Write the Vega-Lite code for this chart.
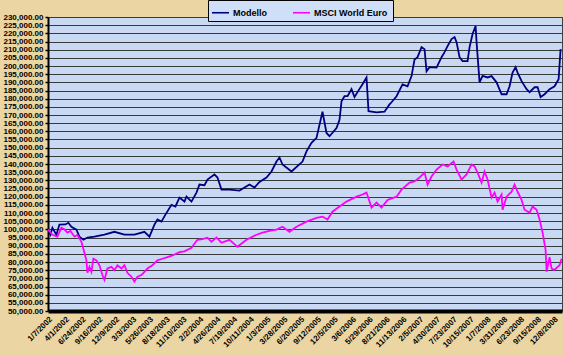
{
  "$schema": "https://vega.github.io/schema/vega-lite/v6.json",
  "width": 514,
  "height": 294,
  "autosize": {"type": "none"},
  "padding": {"left": 48, "top": 17, "right": 1, "bottom": 45},
  "background": "#EBD6A3",
  "config": {
    "view": {"fill": "#C9D9F3", "stroke": "#404040", "strokeWidth": 1},
    "font": "Liberation Sans"
  },
  "data": {
    "values": [
      {"d": "2002-01-07", "s": "Modello", "v": 100000},
      {"d": "2002-01-19", "s": "Modello", "v": 96700},
      {"d": "2002-01-29", "s": "Modello", "v": 101000},
      {"d": "2002-02-18", "s": "Modello", "v": 96700},
      {"d": "2002-03-05", "s": "Modello", "v": 102900},
      {"d": "2002-04-04", "s": "Modello", "v": 103000},
      {"d": "2002-04-19", "s": "Modello", "v": 104000},
      {"d": "2002-05-04", "s": "Modello", "v": 101600},
      {"d": "2002-05-29", "s": "Modello", "v": 99800},
      {"d": "2002-06-13", "s": "Modello", "v": 95500},
      {"d": "2002-07-03", "s": "Modello", "v": 93600},
      {"d": "2002-07-23", "s": "Modello", "v": 95000},
      {"d": "2002-08-27", "s": "Modello", "v": 95500},
      {"d": "2002-10-16", "s": "Modello", "v": 96700},
      {"d": "2002-12-05", "s": "Modello", "v": 98500},
      {"d": "2003-01-24", "s": "Modello", "v": 96700},
      {"d": "2003-03-15", "s": "Modello", "v": 96700},
      {"d": "2003-05-04", "s": "Modello", "v": 98500},
      {"d": "2003-05-29", "s": "Modello", "v": 95500},
      {"d": "2003-06-23", "s": "Modello", "v": 102900},
      {"d": "2003-07-08", "s": "Modello", "v": 106000},
      {"d": "2003-07-28", "s": "Modello", "v": 104700},
      {"d": "2003-08-17", "s": "Modello", "v": 109000},
      {"d": "2003-09-16", "s": "Modello", "v": 115000},
      {"d": "2003-10-06", "s": "Modello", "v": 114000},
      {"d": "2003-10-26", "s": "Modello", "v": 119400},
      {"d": "2003-11-20", "s": "Modello", "v": 117000},
      {"d": "2003-11-30", "s": "Modello", "v": 120000},
      {"d": "2003-12-25", "s": "Modello", "v": 117000},
      {"d": "2004-01-19", "s": "Modello", "v": 122500},
      {"d": "2004-02-03", "s": "Modello", "v": 127400},
      {"d": "2004-02-28", "s": "Modello", "v": 127000},
      {"d": "2004-03-14", "s": "Modello", "v": 130500},
      {"d": "2004-04-18", "s": "Modello", "v": 133600},
      {"d": "2004-05-03", "s": "Modello", "v": 131700},
      {"d": "2004-05-23", "s": "Modello", "v": 124300},
      {"d": "2004-07-02", "s": "Modello", "v": 124300},
      {"d": "2004-08-21", "s": "Modello", "v": 123700},
      {"d": "2004-10-10", "s": "Modello", "v": 127400},
      {"d": "2004-11-04", "s": "Modello", "v": 125600},
      {"d": "2004-11-29", "s": "Modello", "v": 129000},
      {"d": "2005-01-03", "s": "Modello", "v": 131700},
      {"d": "2005-01-28", "s": "Modello", "v": 135400},
      {"d": "2005-02-22", "s": "Modello", "v": 141500},
      {"d": "2005-03-09", "s": "Modello", "v": 144000},
      {"d": "2005-03-24", "s": "Modello", "v": 139700},
      {"d": "2005-05-08", "s": "Modello", "v": 135400},
      {"d": "2005-07-02", "s": "Modello", "v": 141500},
      {"d": "2005-07-22", "s": "Modello", "v": 147700},
      {"d": "2005-08-16", "s": "Modello", "v": 153000},
      {"d": "2005-09-10", "s": "Modello", "v": 156000},
      {"d": "2005-10-10", "s": "Modello", "v": 172000},
      {"d": "2005-10-30", "s": "Modello", "v": 159000},
      {"d": "2005-11-14", "s": "Modello", "v": 157000},
      {"d": "2005-12-19", "s": "Modello", "v": 162000},
      {"d": "2006-01-03", "s": "Modello", "v": 167000},
      {"d": "2006-01-13", "s": "Modello", "v": 178400},
      {"d": "2006-01-28", "s": "Modello", "v": 181500},
      {"d": "2006-02-12", "s": "Modello", "v": 181500},
      {"d": "2006-03-04", "s": "Modello", "v": 185800},
      {"d": "2006-03-19", "s": "Modello", "v": 181000},
      {"d": "2006-04-13", "s": "Modello", "v": 186000},
      {"d": "2006-04-28", "s": "Modello", "v": 188800},
      {"d": "2006-05-18", "s": "Modello", "v": 193000},
      {"d": "2006-05-28", "s": "Modello", "v": 172300},
      {"d": "2006-07-07", "s": "Modello", "v": 171600},
      {"d": "2006-08-16", "s": "Modello", "v": 172000},
      {"d": "2006-09-10", "s": "Modello", "v": 176500},
      {"d": "2006-09-20", "s": "Modello", "v": 177800},
      {"d": "2006-10-15", "s": "Modello", "v": 181500},
      {"d": "2006-11-14", "s": "Modello", "v": 188800},
      {"d": "2006-12-09", "s": "Modello", "v": 187600},
      {"d": "2006-12-29", "s": "Modello", "v": 193800},
      {"d": "2007-01-13", "s": "Modello", "v": 204000},
      {"d": "2007-01-28", "s": "Modello", "v": 205400},
      {"d": "2007-02-17", "s": "Modello", "v": 211600},
      {"d": "2007-03-04", "s": "Modello", "v": 210300},
      {"d": "2007-03-14", "s": "Modello", "v": 196800},
      {"d": "2007-03-29", "s": "Modello", "v": 199300},
      {"d": "2007-05-03", "s": "Modello", "v": 199000},
      {"d": "2007-05-28", "s": "Modello", "v": 205400},
      {"d": "2007-06-12", "s": "Modello", "v": 208500},
      {"d": "2007-06-27", "s": "Modello", "v": 212200},
      {"d": "2007-07-17", "s": "Modello", "v": 216500},
      {"d": "2007-08-01", "s": "Modello", "v": 217700},
      {"d": "2007-08-11", "s": "Modello", "v": 214600},
      {"d": "2007-08-26", "s": "Modello", "v": 205400},
      {"d": "2007-09-10", "s": "Modello", "v": 203000},
      {"d": "2007-10-05", "s": "Modello", "v": 203000},
      {"d": "2007-10-15", "s": "Modello", "v": 211600},
      {"d": "2007-10-30", "s": "Modello", "v": 219600},
      {"d": "2007-11-14", "s": "Modello", "v": 224500},
      {"d": "2007-11-19", "s": "Modello", "v": 214600},
      {"d": "2007-12-04", "s": "Modello", "v": 190000},
      {"d": "2007-12-19", "s": "Modello", "v": 194000},
      {"d": "2008-01-13", "s": "Modello", "v": 193000},
      {"d": "2008-02-02", "s": "Modello", "v": 193800},
      {"d": "2008-02-27", "s": "Modello", "v": 190000},
      {"d": "2008-03-23", "s": "Modello", "v": 182700},
      {"d": "2008-04-17", "s": "Modello", "v": 182700},
      {"d": "2008-05-02", "s": "Modello", "v": 187600},
      {"d": "2008-05-17", "s": "Modello", "v": 196000},
      {"d": "2008-06-01", "s": "Modello", "v": 199300},
      {"d": "2008-06-11", "s": "Modello", "v": 196000},
      {"d": "2008-07-01", "s": "Modello", "v": 190700},
      {"d": "2008-07-26", "s": "Modello", "v": 185800},
      {"d": "2008-08-10", "s": "Modello", "v": 184000},
      {"d": "2008-09-04", "s": "Modello", "v": 187000},
      {"d": "2008-09-19", "s": "Modello", "v": 187000},
      {"d": "2008-10-04", "s": "Modello", "v": 181000},
      {"d": "2008-10-24", "s": "Modello", "v": 182700},
      {"d": "2008-11-18", "s": "Modello", "v": 185800},
      {"d": "2008-12-13", "s": "Modello", "v": 187600},
      {"d": "2009-01-02", "s": "Modello", "v": 191900},
      {"d": "2009-01-12", "s": "Modello", "v": 210300},

      {"d": "2002-01-07", "s": "MSCI World  Euro", "v": 100000},
      {"d": "2002-01-29", "s": "MSCI World  Euro", "v": 96700},
      {"d": "2002-02-23", "s": "MSCI World  Euro", "v": 95500},
      {"d": "2002-03-15", "s": "MSCI World  Euro", "v": 101000},
      {"d": "2002-03-30", "s": "MSCI World  Euro", "v": 100000},
      {"d": "2002-04-14", "s": "MSCI World  Euro", "v": 98000},
      {"d": "2002-04-29", "s": "MSCI World  Euro", "v": 99000},
      {"d": "2002-05-19", "s": "MSCI World  Euro", "v": 95500},
      {"d": "2002-06-03", "s": "MSCI World  Euro", "v": 96500},
      {"d": "2002-06-23", "s": "MSCI World  Euro", "v": 92400},
      {"d": "2002-07-08", "s": "MSCI World  Euro", "v": 85600},
      {"d": "2002-07-18", "s": "MSCI World  Euro", "v": 81000},
      {"d": "2002-07-23", "s": "MSCI World  Euro", "v": 73400},
      {"d": "2002-08-02", "s": "MSCI World  Euro", "v": 77000},
      {"d": "2002-08-12", "s": "MSCI World  Euro", "v": 74000},
      {"d": "2002-08-22", "s": "MSCI World  Euro", "v": 82000},
      {"d": "2002-09-06", "s": "MSCI World  Euro", "v": 81000},
      {"d": "2002-09-21", "s": "MSCI World  Euro", "v": 78000},
      {"d": "2002-10-06", "s": "MSCI World  Euro", "v": 72000},
      {"d": "2002-10-16", "s": "MSCI World  Euro", "v": 69000},
      {"d": "2002-10-31", "s": "MSCI World  Euro", "v": 76000},
      {"d": "2002-11-20", "s": "MSCI World  Euro", "v": 77000},
      {"d": "2002-12-05", "s": "MSCI World  Euro", "v": 75000},
      {"d": "2002-12-20", "s": "MSCI World  Euro", "v": 78000},
      {"d": "2003-01-09", "s": "MSCI World  Euro", "v": 76000},
      {"d": "2003-01-24", "s": "MSCI World  Euro", "v": 78000},
      {"d": "2003-02-08", "s": "MSCI World  Euro", "v": 73400},
      {"d": "2003-02-28", "s": "MSCI World  Euro", "v": 71000},
      {"d": "2003-03-15", "s": "MSCI World  Euro", "v": 68000},
      {"d": "2003-03-30", "s": "MSCI World  Euro", "v": 71000},
      {"d": "2003-04-19", "s": "MSCI World  Euro", "v": 72000},
      {"d": "2003-05-04", "s": "MSCI World  Euro", "v": 74000},
      {"d": "2003-05-19", "s": "MSCI World  Euro", "v": 76000},
      {"d": "2003-06-13", "s": "MSCI World  Euro", "v": 78000},
      {"d": "2003-07-08", "s": "MSCI World  Euro", "v": 81000},
      {"d": "2003-08-02", "s": "MSCI World  Euro", "v": 82000},
      {"d": "2003-08-27", "s": "MSCI World  Euro", "v": 83000},
      {"d": "2003-09-21", "s": "MSCI World  Euro", "v": 84000},
      {"d": "2003-10-26", "s": "MSCI World  Euro", "v": 86000},
      {"d": "2003-11-20", "s": "MSCI World  Euro", "v": 86500},
      {"d": "2003-12-25", "s": "MSCI World  Euro", "v": 88700},
      {"d": "2004-01-24", "s": "MSCI World  Euro", "v": 93600},
      {"d": "2004-02-18", "s": "MSCI World  Euro", "v": 94000},
      {"d": "2004-03-14", "s": "MSCI World  Euro", "v": 94900},
      {"d": "2004-04-03", "s": "MSCI World  Euro", "v": 92400},
      {"d": "2004-04-28", "s": "MSCI World  Euro", "v": 95000},
      {"d": "2004-05-23", "s": "MSCI World  Euro", "v": 91800},
      {"d": "2004-07-02", "s": "MSCI World  Euro", "v": 93600},
      {"d": "2004-08-11", "s": "MSCI World  Euro", "v": 89300},
      {"d": "2004-09-25", "s": "MSCI World  Euro", "v": 93600},
      {"d": "2004-11-14", "s": "MSCI World  Euro", "v": 96700},
      {"d": "2004-12-14", "s": "MSCI World  Euro", "v": 98000},
      {"d": "2005-01-18", "s": "MSCI World  Euro", "v": 99000},
      {"d": "2005-02-22", "s": "MSCI World  Euro", "v": 99800},
      {"d": "2005-03-24", "s": "MSCI World  Euro", "v": 101600},
      {"d": "2005-04-28", "s": "MSCI World  Euro", "v": 98500},
      {"d": "2005-06-02", "s": "MSCI World  Euro", "v": 101600},
      {"d": "2005-07-22", "s": "MSCI World  Euro", "v": 104700},
      {"d": "2005-09-10", "s": "MSCI World  Euro", "v": 107000},
      {"d": "2005-10-10", "s": "MSCI World  Euro", "v": 107800},
      {"d": "2005-11-04", "s": "MSCI World  Euro", "v": 106000},
      {"d": "2005-11-29", "s": "MSCI World  Euro", "v": 110800},
      {"d": "2006-01-03", "s": "MSCI World  Euro", "v": 114000},
      {"d": "2006-02-07", "s": "MSCI World  Euro", "v": 117000},
      {"d": "2006-03-29", "s": "MSCI World  Euro", "v": 120000},
      {"d": "2006-04-28", "s": "MSCI World  Euro", "v": 121300},
      {"d": "2006-05-18", "s": "MSCI World  Euro", "v": 122500},
      {"d": "2006-06-12", "s": "MSCI World  Euro", "v": 113300},
      {"d": "2006-07-07", "s": "MSCI World  Euro", "v": 116400},
      {"d": "2006-08-01", "s": "MSCI World  Euro", "v": 113300},
      {"d": "2006-08-31", "s": "MSCI World  Euro", "v": 118000},
      {"d": "2006-10-15", "s": "MSCI World  Euro", "v": 120000},
      {"d": "2006-11-09", "s": "MSCI World  Euro", "v": 124300},
      {"d": "2006-12-19", "s": "MSCI World  Euro", "v": 128600},
      {"d": "2007-01-13", "s": "MSCI World  Euro", "v": 129300},
      {"d": "2007-02-07", "s": "MSCI World  Euro", "v": 131700},
      {"d": "2007-03-04", "s": "MSCI World  Euro", "v": 134800},
      {"d": "2007-03-19", "s": "MSCI World  Euro", "v": 127400},
      {"d": "2007-04-08", "s": "MSCI World  Euro", "v": 132300},
      {"d": "2007-05-03", "s": "MSCI World  Euro", "v": 136600},
      {"d": "2007-06-02", "s": "MSCI World  Euro", "v": 139700},
      {"d": "2007-06-27", "s": "MSCI World  Euro", "v": 138500},
      {"d": "2007-07-27", "s": "MSCI World  Euro", "v": 141500},
      {"d": "2007-08-11", "s": "MSCI World  Euro", "v": 136600},
      {"d": "2007-09-05", "s": "MSCI World  Euro", "v": 130500},
      {"d": "2007-09-30", "s": "MSCI World  Euro", "v": 133600},
      {"d": "2007-10-25", "s": "MSCI World  Euro", "v": 139700},
      {"d": "2007-11-09", "s": "MSCI World  Euro", "v": 138500},
      {"d": "2007-11-24", "s": "MSCI World  Euro", "v": 134800},
      {"d": "2007-12-14", "s": "MSCI World  Euro", "v": 128600},
      {"d": "2007-12-29", "s": "MSCI World  Euro", "v": 135400},
      {"d": "2008-01-13", "s": "MSCI World  Euro", "v": 130500},
      {"d": "2008-02-02", "s": "MSCI World  Euro", "v": 119400},
      {"d": "2008-02-17", "s": "MSCI World  Euro", "v": 122500},
      {"d": "2008-03-03", "s": "MSCI World  Euro", "v": 117000},
      {"d": "2008-03-23", "s": "MSCI World  Euro", "v": 121300},
      {"d": "2008-03-28", "s": "MSCI World  Euro", "v": 112000},
      {"d": "2008-04-17", "s": "MSCI World  Euro", "v": 120000},
      {"d": "2008-05-12", "s": "MSCI World  Euro", "v": 123000},
      {"d": "2008-05-27", "s": "MSCI World  Euro", "v": 127400},
      {"d": "2008-06-11", "s": "MSCI World  Euro", "v": 123000},
      {"d": "2008-07-01", "s": "MSCI World  Euro", "v": 118000},
      {"d": "2008-07-16", "s": "MSCI World  Euro", "v": 112000},
      {"d": "2008-08-10", "s": "MSCI World  Euro", "v": 110200},
      {"d": "2008-08-25", "s": "MSCI World  Euro", "v": 114000},
      {"d": "2008-09-14", "s": "MSCI World  Euro", "v": 112000},
      {"d": "2008-09-29", "s": "MSCI World  Euro", "v": 106000},
      {"d": "2008-10-14", "s": "MSCI World  Euro", "v": 98000},
      {"d": "2008-10-29", "s": "MSCI World  Euro", "v": 87500},
      {"d": "2008-11-03", "s": "MSCI World  Euro", "v": 74000},
      {"d": "2008-11-18", "s": "MSCI World  Euro", "v": 83000},
      {"d": "2008-11-28", "s": "MSCI World  Euro", "v": 76000},
      {"d": "2008-12-13", "s": "MSCI World  Euro", "v": 75200},
      {"d": "2008-12-28", "s": "MSCI World  Euro", "v": 77000},
      {"d": "2009-01-07", "s": "MSCI World  Euro", "v": 78000},
      {"d": "2009-01-17", "s": "MSCI World  Euro", "v": 82000}
    ]
  },
  "mark": {"type": "line", "strokeWidth": 1.8, "clip": true},
  "encoding": {
    "x": {
      "field": "d",
      "type": "temporal",
      "scale": {
        "domain": [
          {"year": 2002, "month": 1, "date": 7},
          {"year": 2009, "month": 1, "date": 19}
        ]
      },
      "axis": {
        "title": null,
        "values": [
          {"year": 2002, "month": 1, "date": 7},
          {"year": 2002, "month": 4, "date": 1},
          {"year": 2002, "month": 6, "date": 24},
          {"year": 2002, "month": 9, "date": 16},
          {"year": 2002, "month": 12, "date": 9},
          {"year": 2003, "month": 3, "date": 3},
          {"year": 2003, "month": 5, "date": 26},
          {"year": 2003, "month": 8, "date": 18},
          {"year": 2003, "month": 11, "date": 10},
          {"year": 2004, "month": 2, "date": 2},
          {"year": 2004, "month": 4, "date": 26},
          {"year": 2004, "month": 7, "date": 19},
          {"year": 2004, "month": 10, "date": 11},
          {"year": 2005, "month": 1, "date": 3},
          {"year": 2005, "month": 3, "date": 28},
          {"year": 2005, "month": 6, "date": 20},
          {"year": 2005, "month": 9, "date": 12},
          {"year": 2005, "month": 12, "date": 5},
          {"year": 2006, "month": 3, "date": 6},
          {"year": 2006, "month": 5, "date": 29},
          {"year": 2006, "month": 8, "date": 21},
          {"year": 2006, "month": 11, "date": 13},
          {"year": 2007, "month": 2, "date": 5},
          {"year": 2007, "month": 4, "date": 30},
          {"year": 2007, "month": 7, "date": 23},
          {"year": 2007, "month": 10, "date": 15},
          {"year": 2008, "month": 1, "date": 7},
          {"year": 2008, "month": 3, "date": 31},
          {"year": 2008, "month": 6, "date": 23},
          {"year": 2008, "month": 9, "date": 15},
          {"year": 2008, "month": 12, "date": 8}
        ],
        "format": "%-m/%-d/%Y",
        "labelAngle": -45,
        "labelFontSize": 8,
        "labelFontWeight": "bold",
        "labelColor": "black",
        "labelPadding": 4,
        "labelOverlap": false,
        "labelBound": false,
        "labelFlush": false,
        "grid": false,
        "ticks": false,
        "domainColor": "black",
        "domainWidth": 4
      }
    },
    "y": {
      "field": "v",
      "type": "quantitative",
      "scale": {"domain": [50000, 230000], "nice": false, "zero": false},
      "axis": {
        "title": null,
        "values": [50000, 55000, 60000, 65000, 70000, 75000, 80000, 85000, 90000, 95000, 100000, 105000, 110000, 115000, 120000, 125000, 130000, 135000, 140000, 145000, 150000, 155000, 160000, 165000, 170000, 175000, 180000, 185000, 190000, 195000, 200000, 205000, 210000, 215000, 220000, 225000, 230000],
        "format": ",.2f",
        "labelFontSize": 8,
        "labelFontWeight": "bold",
        "labelColor": "black",
        "labelPadding": 2,
        "labelOverlap": false,
        "labelFlush": false,
        "tickColor": "black",
        "tickSize": 3,
        "tickWidth": 1.5,
        "domainColor": "black",
        "domainWidth": 2,
        "grid": true,
        "gridColor": "#3a3a3a",
        "gridWidth": 1.2
      }
    },
    "color": {
      "field": "s",
      "type": "nominal",
      "scale": {"domain": ["Modello", "MSCI World  Euro"], "range": ["#000080", "#FF00FF"]},
      "legend": {
        "title": null,
        "orient": "none",
        "legendX": 160,
        "legendY": -17,
        "direction": "horizontal",
        "fillColor": "#CFDFF7",
        "strokeColor": "black",
        "padding": 3,
        "symbolType": "stroke",
        "symbolSize": 289,
        "symbolStrokeWidth": 1.6,
        "labelFontSize": 9,
        "labelFontWeight": "bold",
        "labelColor": "black",
        "columnPadding": 22,
        "labelOffset": 3
      }
    }
  }
}
